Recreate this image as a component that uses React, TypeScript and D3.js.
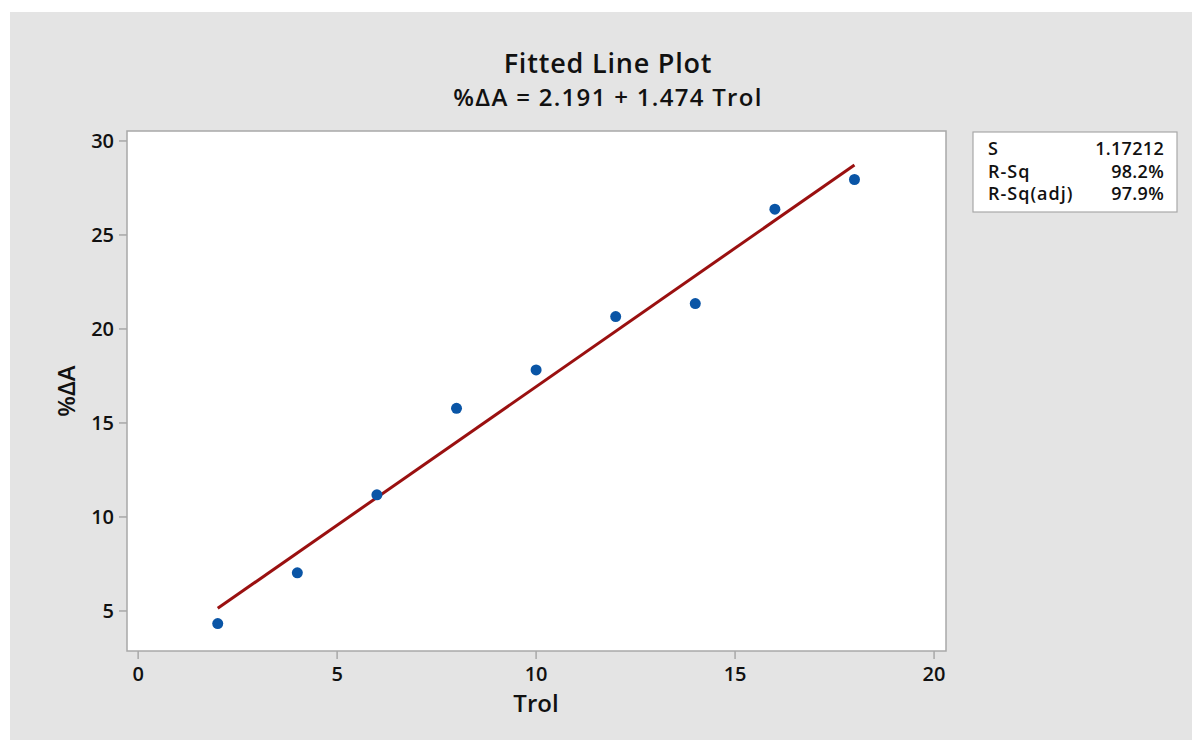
import React from "react";
import * as d3 from "d3";

const trol = [2, 4, 6, 8, 10, 12, 14, 16, 18];
const pctDeltaA = [4.33, 7.03, 11.18, 15.78, 17.82, 20.66, 21.35, 26.37, 27.95];
const intercept = 2.191;
const slope = 1.474;
const xTicks = [0, 5, 10, 15, 20];
const yTicks = [5, 10, 15, 20, 25, 30];
const statLabels = ["S", "R-Sq", "R-Sq(adj)"];
const statValues = ["1.17212", "98.2%", "97.9%"];

const W = 1192;
const H = 740;
const font = "'Open Sans', 'Noto Sans', sans-serif";

const App = () => {
  const plot = { left: 127, top: 131, right: 946, bottom: 651 };

  const x = React.useMemo(
    () => d3.scaleLinear().domain([-0.28, 20.3]).range([plot.left, plot.right]),
    []
  );
  const y = React.useMemo(
    () => d3.scaleLinear().domain([2.87, 30.53]).range([plot.bottom, plot.top]),
    []
  );

  const fitLine = d3
    .line<number>()
    .x((d) => x(d))
    .y((d) => y(intercept + slope * d));
  const fitXs = [d3.min(trol)!, d3.max(trol)!];

  const tickColor = "#a8a8a8";

  return (
    <svg
      width={W}
      height={H}
      style={{ position: "absolute", left: 0, top: 0 }}
      fontFamily={font}
    >
      <rect x={0} y={0} width={W} height={H} fill="#ffffff" />
      <rect x={10} y={12} width={W - 10} height={H - 12} fill="#e4e4e4" />

      {/* titles */}
      <text x={608} y={73} textAnchor="middle" fontSize={27} fontWeight={600} fill="#111" letterSpacing={0.8}>
        Fitted Line Plot
      </text>
      <text x={608} y={106} textAnchor="middle" fontSize={24} fontWeight={600} fill="#111" letterSpacing={1.3}>
        %ΔA = 2.191 + 1.474 Trol
      </text>

      {/* plot area */}
      <rect
        x={plot.left}
        y={plot.top}
        width={plot.right - plot.left}
        height={plot.bottom - plot.top}
        fill="#ffffff"
        stroke={tickColor}
        strokeWidth={1.5}
      />

      {/* x axis ticks */}
      {xTicks.map((t) => (
        <g key={"x" + t}>
          <line x1={x(t)} x2={x(t)} y1={plot.bottom} y2={plot.bottom + 8} stroke={tickColor} strokeWidth={1.5} />
          <text x={x(t)} y={681} textAnchor="middle" fontSize={20} fontWeight={600} fill="#111">
            {t}
          </text>
        </g>
      ))}
      {/* y axis ticks */}
      {yTicks.map((t) => (
        <g key={"y" + t}>
          <line x1={plot.left - 8} x2={plot.left} y1={y(t)} y2={y(t)} stroke={tickColor} strokeWidth={1.5} />
          <text x={114} y={y(t) + 7} textAnchor="end" fontSize={20} fontWeight={600} fill="#111">
            {t}
          </text>
        </g>
      ))}

      {/* axis labels */}
      <text x={536} y={712} textAnchor="middle" fontSize={24} fontWeight={600} fill="#111">
        Trol
      </text>
      <text
        transform={`translate(75, ${y(16.7)}) rotate(-90)`}
        textAnchor="middle"
        fontSize={24}
        fontWeight={600}
        fill="#111"
      >
        %ΔA
      </text>

      {/* fitted line */}
      <path d={fitLine(fitXs) || ""} fill="none" stroke="#9a1010" strokeWidth={3} />

      {/* points */}
      {trol.map((t, i) => (
        <circle key={i} cx={x(t)} cy={y(pctDeltaA[i])} r={5.5} fill="#0a55a6" />
      ))}

      {/* stats box */}
      <rect x={973} y={132} width={204} height={80} fill="#ffffff" stroke={tickColor} strokeWidth={1.2} />
      {statLabels.map((s, i) => (
        <g key={s}>
          <text x={988} y={155 + i * 22.5} fontSize={18} fontWeight={600} fill="#111" letterSpacing={1}>
            {s}
          </text>
          <text x={1164} y={155 + i * 22.5} textAnchor="end" fontSize={18} fontWeight={600} fill="#111" letterSpacing={0.3}>
            {statValues[i]}
          </text>
        </g>
      ))}
    </svg>
  );
};

export default App;
